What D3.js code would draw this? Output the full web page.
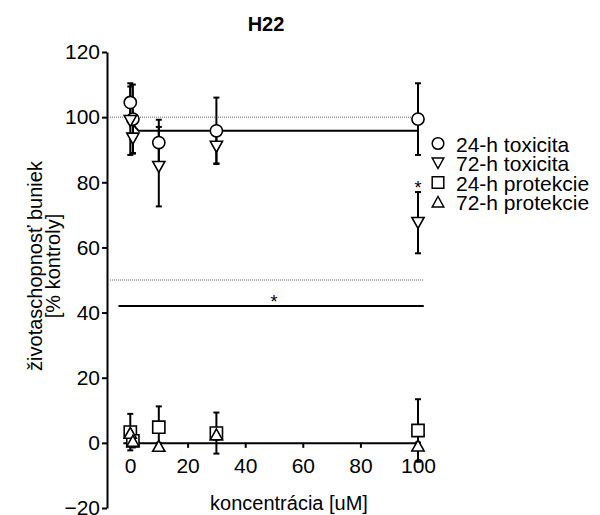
<!DOCTYPE html>
<html><head><meta charset="utf-8">
<script src="https://cdn.jsdelivr.net/npm/d3@7"></script>
<style>body{margin:0;background:#fff}svg{display:block}text{font-family:Arial,"Liberation Sans",sans-serif;fill:#000}</style>
</head><body><div id="chart"></div>
<script>
// ---- data ----
const title = "H22";
const xTicks = [0, 20, 40, 60, 80, 100];
const yTicks = [-20, 0, 20, 40, 60, 80, 100, 120];
const conc = [0.1, 1, 10, 30, 100];
const tox24 = [104.5, 99.4, 92.2, 95.8, 99.4];
const tox24Err = [5.9, 10.6, 7.0, 10.2, 11.0];
const tox72 = [98.9, 93.5, 84.8, 91.0, 67.6];
const tox72Err = [10.5, 4.5, 12.2, 5.2, 9.4];
const prot24 = [3.3, 0.6, 4.8, 3.0, 3.8];
const prot24Err = [5.6, 2.0, 6.4, 6.3, 9.6];
const prot72 = [3.0, 0.5, -1.0, 2.5, -0.9];
const prot72Err = [1.5, 1.0, 1.0, 1.5, 1.0];
const fitConc = [0.5, 1, 2, 3, 100];
const fitVal = [99.0, 98.0, 96.8, 95.8, 95.8];
const refLines = [100, 50];
const sigLine = {x1: -4, x2: 102, y: 42};
const sigStars = [{c: 50, v: 44.6}, {c: 100, v: 79.6}];
const seriesNames = ["24-h toxicita", "72-h toxicita", "24-h protekcie", "72-h protekcie"];
const seriesShapes = ["circle", "tdown", "square", "tup"];

const W = 600, H = 515;
const svg = d3.select("#chart").append("svg").attr("width", W).attr("height", H);
const x = d3.scaleLinear().domain([0, 100]).range([130, 418]);
const y = d3.scaleLinear().domain([-20, 120]).range([508, 52]);

function shapePath(s, r) {
  if (s === "circle") return d3.symbol(d3.symbolCircle, Math.PI * r * r)();
  if (s === "square") return `M${-r},${-r}H${r}V${r}H${-r}Z`;
  if (s === "tdown") return `M${-r},${-r*0.85}H${r}L0,${r*0.95}Z`;
  return `M${-r},${r*0.85}H${r}L0,${-r*0.95}Z`;
}

// title
svg.append("text").attr("x", 266).attr("y", 31).attr("text-anchor", "middle")
  .style("font-weight", "bold").style("font-size", "20px").text(title);

// y axis
const ya = svg.append("g").attr("transform", "translate(107,0)")
  .call(d3.axisLeft(y).tickValues(yTicks).tickSize(5).tickSizeOuter(0).tickPadding(2));
ya.selectAll("path,line").attr("stroke", "#000").attr("stroke-width", 2);
ya.selectAll("text").style("font-size", "21px").attr("fill", "#000");

// x axis
const xa = d3.scaleLinear().domain([-2.5, 100]).range([x(-2.5), x(100)]);
const xg = svg.append("g").attr("transform", `translate(0,${y(0)})`)
  .call(d3.axisBottom(xa).tickValues(xTicks).tickSize(5).tickSizeOuter(0).tickPadding(10));
xg.selectAll("path,line").attr("stroke", "#000").attr("stroke-width", 2);
xg.selectAll("text").style("font-size", "21px").attr("fill", "#000");

// axis titles
svg.append("text").attr("x", 289).attr("y", 510).attr("text-anchor", "middle")
  .style("font-size", "20px").text("koncentrácia [uM]");
const yt = svg.append("text").attr("transform", "translate(42,266) rotate(-90)")
  .attr("text-anchor", "middle").style("font-size", "20px");
yt.append("tspan").attr("x", 0).attr("dy", 0).text("životaschopnosť buniek");
yt.append("tspan").attr("x", 0).attr("dy", 18).text("[% kontroly]");

// reference dotted lines
svg.selectAll(".ref").data(refLines).join("line")
  .attr("x1", 108).attr("x2", x(102)).attr("y1", d => y(d)).attr("y2", d => y(d))
  .attr("stroke", "#666").attr("stroke-width", 1).attr("stroke-dasharray", "1,1");

// significance line
svg.append("line").attr("x1", x(sigLine.x1)).attr("x2", x(sigLine.x2))
  .attr("y1", y(sigLine.y)).attr("y2", y(sigLine.y)).attr("stroke", "#000").attr("stroke-width", 2);
svg.selectAll(".star").data(sigStars).join("text")
  .attr("x", d => x(d.c)).attr("y", d => y(d.v) + 10).attr("text-anchor", "middle")
  .style("font-size", "18px").text("*");

// fit line
svg.append("path").datum(fitConc.map((c, i) => [c, fitVal[i]]))
  .attr("d", d3.line().x(d => x(d[0])).y(d => y(d[1])))
  .attr("fill", "none").attr("stroke", "#000").attr("stroke-width", 2);

const series = [
  {v: tox24, e: tox24Err, s: "circle"},
  {v: tox72, e: tox72Err, s: "tdown"},
  {v: prot24, e: prot24Err, s: "square"},
  {v: prot72, e: prot72Err, s: "tup"}
];
const capW = 3;
series.forEach(sr => {
  const g = svg.append("g");
  conc.forEach((c, i) => {
    const cx = x(c), v = sr.v[i], e = sr.e[i];
    g.append("line").attr("x1", cx).attr("x2", cx).attr("y1", y(v + e)).attr("y2", y(v - e))
      .attr("stroke", "#000").attr("stroke-width", 2);
    [v + e, v - e].forEach(t => g.append("line").attr("x1", cx - capW).attr("x2", cx + capW)
      .attr("y1", y(t)).attr("y2", y(t)).attr("stroke", "#000").attr("stroke-width", 2));
  });
});
series.forEach(sr => {
  svg.append("g").selectAll("path").data(conc).join("path")
    .attr("transform", (c, i) => `translate(${x(c)},${y(sr.v[i])})`)
    .attr("d", shapePath(sr.s, 6.1))
    .attr("fill", "#fff").attr("stroke", "#000").attr("stroke-width", 1.6);
});

// legend
const lg = svg.append("g");
seriesNames.forEach((n, i) => {
  const cy = 143.5 + i * 19.5;
  lg.append("path").attr("transform", `translate(438,${cy})`).attr("d", shapePath(seriesShapes[i], 5.8))
    .attr("fill", "#fff").attr("stroke", "#000").attr("stroke-width", 1.5);
  lg.append("text").attr("x", 456).attr("y", cy + 8).style("font-size", "21px").text(n);
});
</script></body></html>
